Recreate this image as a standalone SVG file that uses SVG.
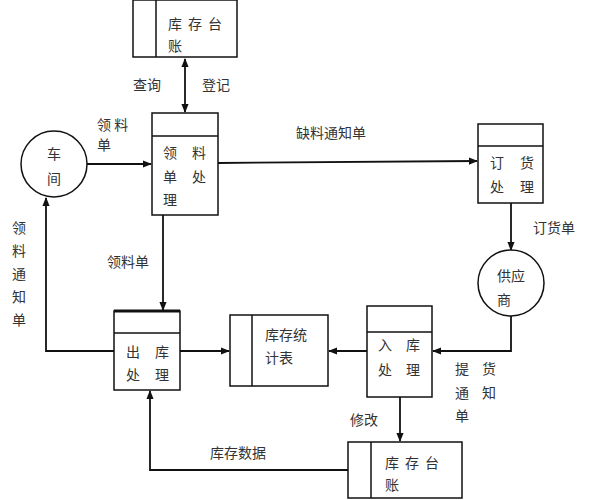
<svg xmlns="http://www.w3.org/2000/svg" width="610" height="500" viewBox="0 0 610 500">
<style>
.b{fill:#fff;stroke:#111;stroke-width:1.5}
.l{fill:none;stroke:#111;stroke-width:1.8}
text{font-family:"Noto Sans CJK SC","Noto Sans",sans-serif;font-size:14px;fill:#333}
</style>
<defs>
<marker id="a" viewBox="0 0 10 10" refX="9" refY="5" markerWidth="5" markerHeight="5" orient="auto-start-reverse"><path d="M0,1L10,5L0,9z" fill="#111"/></marker>
</defs>
<g id="connectors">
<line class="l" x1="185" y1="59" x2="185" y2="112" marker-start="url(#a)" marker-end="url(#a)"/>
<line class="l" x1="87" y1="164" x2="151" y2="164" marker-end="url(#a)"/>
<line class="l" x1="218" y1="163" x2="477" y2="161" marker-end="url(#a)"/>
<line class="l" x1="511" y1="203" x2="511" y2="250" marker-end="url(#a)"/>
<line class="l" x1="163" y1="215" x2="163" y2="310" marker-end="url(#a)"/>
<polyline class="l" points="114,351 46,351 46,198" marker-end="url(#a)"/>
<line class="l" x1="180" y1="351" x2="229" y2="351" marker-end="url(#a)"/>
<line class="l" x1="367" y1="351" x2="329" y2="351" marker-end="url(#a)"/>
<polyline class="l" points="511,316 511,351 433,351" marker-end="url(#a)"/>
<line class="l" x1="400" y1="397" x2="400" y2="441" marker-end="url(#a)"/>
<polyline class="l" points="348,470 150,470 150,391" marker-end="url(#a)"/>
<text x="133" y="90">查询</text>
<text x="202" y="90">登记</text>
<text x="97" y="130" font-size="12">领 料</text>
<text x="97" y="150" font-size="12">单</text>
<text x="296" y="138">缺料通知单</text>
<text x="533" y="233">订货单</text>
<text x="107" y="267">领料单</text>
<text x="12" y="233">领</text>
<text x="12" y="256">料</text>
<text x="12" y="279">通</text>
<text x="12" y="302">知</text>
<text x="12" y="325">单</text>
<text x="455" y="374">提</text>
<text x="482" y="374">货</text>
<text x="455" y="398">通</text>
<text x="482" y="398">知</text>
<text x="455" y="421">单</text>
<text x="350" y="425">修改</text>
<text x="210" y="458">库存数据</text>
</g>
<g id="store-top">
<rect class="b" x="133" y="0" width="104" height="57"/>
<line class="b" x1="156" y1="0" x2="156" y2="57"/>
<text x="168" y="29" letter-spacing="6">库存台</text>
<text x="168" y="51">账</text>
</g>
<g id="chejian">
<circle class="b" cx="54" cy="164" r="33"/>
<text x="47" y="159">车</text>
<text x="47" y="184">间</text>
</g>
<g id="lingliao">
<rect class="b" x="152" y="113" width="66" height="102"/>
<line class="b" x1="152" y1="136" x2="218" y2="136"/>
<text x="163" y="158">领</text>
<text x="192" y="158">料</text>
<text x="163" y="182">单</text>
<text x="192" y="182">处</text>
<text x="163" y="205">理</text>
</g>
<g id="dinghuo">
<rect class="b" x="478" y="124" width="65" height="79"/>
<line class="b" x1="478" y1="146" x2="543" y2="146"/>
<text x="490" y="168">订</text>
<text x="520" y="168">货</text>
<text x="490" y="192">处</text>
<text x="520" y="192">理</text>
</g>
<g id="gongying">
<circle class="b" cx="511" cy="283" r="33"/>
<text x="497" y="281">供应</text>
<text x="497" y="305">商</text>
</g>
<g id="chuku">
<rect class="b" x="114" y="311" width="66" height="79"/>
<line x1="114" y1="311" x2="180" y2="311" stroke="#111" stroke-width="3"/>
<line class="b" x1="114" y1="333" x2="180" y2="333"/>
<text x="126" y="357">出</text>
<text x="155" y="357">库</text>
<text x="126" y="380">处</text>
<text x="155" y="380">理</text>
</g>
<g id="tongji">
<rect class="b" x="230" y="315" width="98" height="71"/>
<line class="b" x1="252" y1="315" x2="252" y2="386"/>
<text x="265" y="340">库存统</text>
<text x="265" y="363">计表</text>
</g>
<g id="ruku">
<rect class="b" x="367" y="306" width="65" height="91"/>
<line class="b" x1="367" y1="332" x2="432" y2="332"/>
<text x="378" y="350">入</text>
<text x="406" y="350">库</text>
<text x="378" y="375">处</text>
<text x="406" y="375">理</text>
</g>
<g id="store-bottom">
<rect class="b" x="348" y="442" width="114" height="56"/>
<line class="b" x1="371" y1="442" x2="371" y2="498"/>
<text x="385" y="468" letter-spacing="6">库存台</text>
<text x="385" y="490">账</text>
</g>
</svg>
